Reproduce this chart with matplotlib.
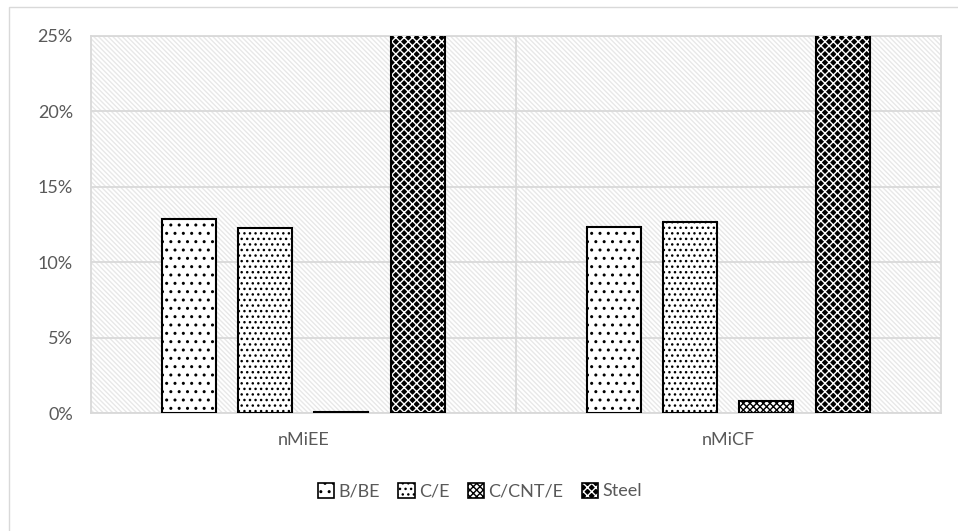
import matplotlib

matplotlib.use("Agg")
import matplotlib.pyplot as plt
import numpy as np
from matplotlib.legend_handler import HandlerTuple
from matplotlib.patches import Rectangle
from matplotlib.ticker import PercentFormatter

CATEGORIES = ["nMiEE", "nMiCF"]
SERIES = ["B/BE", "C/E", "C/CNT/E", "Steel"]
B_BE = [0.1285, 0.1235]
C_E = [0.1227, 0.1267]
C_CNT_E = [0.0005, 0.0080]
STEEL = [0.30, 0.30]
Y_TICKS = [0.0, 0.05, 0.10, 0.15, 0.20, 0.25]

GRID = "#d9d9d9"
TEXT = "#595959"

# (face, hatch, hatch colour) for each series
STYLES = [
    ("white", "..", "black"),
    ("white", "...", "black"),
    ("white", "xxxxx", "black"),
    ("black", "xxxx", "white"),
]

plt.rcParams["font.family"] = ["Lato", "DejaVu Sans"]

fig = plt.figure(figsize=(9.58, 5.31), dpi=100)
ax = fig.add_axes([91 / 958, 1 - 413 / 531, 850 / 958, 377 / 531])

# chart area frame (runs off the right and bottom edges)
fig.patches.append(Rectangle((9 / 958, -0.1), 1.2, 1 - 7 / 531 + 0.1, transform=fig.transFigure,
                             facecolor="none", edgecolor=GRID, linewidth=1.0))

# light diagonal texture over the plot area
ax.add_patch(Rectangle((0, 0), 1, 1, transform=ax.transAxes, facecolor="white",
                       edgecolor="#e8e8e8", hatch="\\" * 7, linewidth=0, zorder=0))

values = [B_BE, C_E, C_CNT_E, STEEL]
x = np.arange(len(CATEGORIES))
offsets = [-0.269, -0.090, 0.089, 0.269]
width = 0.127

handles = []
for vals, off, (face, hatch, hcol), name in zip(values, offsets, STYLES, SERIES):
    ax.bar(x + off, vals, width, color=face, edgecolor=hcol, hatch=hatch, linewidth=0, zorder=3)
    ax.bar(x + off, vals, width, facecolor="none", edgecolor="black", linewidth=1.5, zorder=4)
    fill = Rectangle((0, 0), 1, 1, facecolor=face, edgecolor=hcol, hatch=hatch, linewidth=0)
    outline = Rectangle((0, 0), 1, 1, facecolor="none", edgecolor="black", linewidth=1.2)
    handles.append((fill, outline))

ax.set_xlim(-0.5, 1.5)
ax.set_ylim(0, 0.25)
ax.set_yticks(Y_TICKS)
ax.yaxis.set_major_formatter(PercentFormatter(1.0, decimals=0))
ax.set_xticks(x)
ax.set_xticklabels(CATEGORIES)
ax.tick_params(length=0, colors=TEXT, labelsize=13)
ax.tick_params(axis="y", pad=13)
ax.tick_params(axis="x", pad=14)

ax.grid(axis="y", color=GRID, linewidth=1.3, zorder=1)
ax.axvline(0.5, color=GRID, linewidth=1.3, zorder=1)
for side in ["left", "right", "bottom", "top"]:
    ax.spines[side].set_color(GRID)
    ax.spines[side].set_linewidth(1.3)
ax.set_axisbelow(True)

leg = fig.legend(handles, SERIES, loc="center", bbox_to_anchor=(480 / 958, 1 - 491 / 531), ncol=4,
                 frameon=False, fontsize=13, handlelength=0.9, handleheight=0.9,
                 handletextpad=0.25, columnspacing=1.0,
                 handler_map={tuple: HandlerTuple(ndivide=1, pad=0)})
for t in leg.get_texts():
    t.set_color(TEXT)

fig.savefig("out.png", dpi=100)
